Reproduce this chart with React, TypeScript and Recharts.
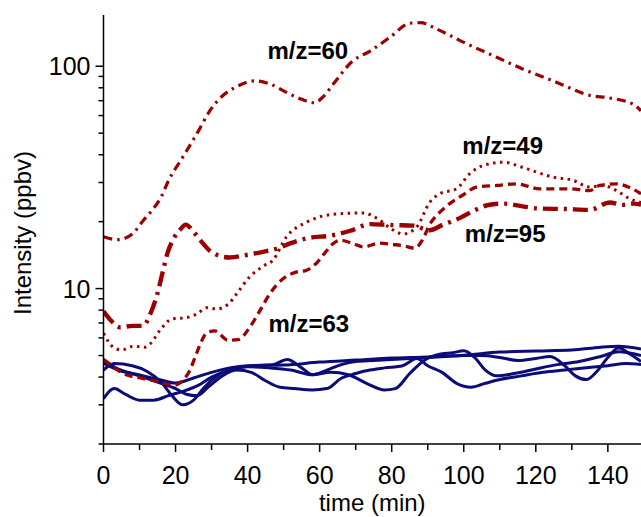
import { LineChart, Line, XAxis, YAxis, ReferenceDot, Label } from 'recharts'

const FONT = "'Liberation Sans', Arial, Helvetica, sans-serif"
const RED = '#9c0000'
const BLUE = '#0c0c78'

// axis ticks
const timeTicks = [0, 10, 20, 30, 40, 50, 60, 70, 80, 90, 100, 110, 120, 130, 140]
const timeLabels = [0, 20, 40, 60, 80, 100, 120, 140]
const intensityTicks = [2, 3, 4, 5, 6, 7, 8, 9, 10, 20, 30, 40, 50, 60, 70, 80, 90, 100]
const intensityLabels = [10, 100]

// [time (min), intensity (ppbv)]
const mz60 = [
  [0, 17.1], [4, 16.6], [8, 17.6], [11, 20.2], [13.5, 22.5], [16, 25.8], [18, 30.5], [22, 39],
  [26, 50], [29.5, 63], [33, 73.5], [37, 81], [42, 86], [46, 83.5], [51, 76], [55, 71],
  [58.5, 68.5], [61, 73], [64, 84], [69, 105], [74, 117], [79.5, 135], [85, 156], [88, 157],
  [92.5, 147], [100, 128], [109, 110], [116.5, 97], [125.5, 85], [135, 74], [140.5, 72],
  [147, 67.5], [149.2, 63],
]
const mz95 = [
  [0, 7.9], [2, 7.2], [4.6, 6.7], [8, 6.8], [11, 6.8], [13, 7.7], [15.2, 9.8], [16.5, 12],
  [17.8, 14.5], [19.5, 16.8], [21.5, 18.6], [22.8, 19.4], [25, 18], [27, 16.4], [30.5, 14.4],
  [35, 13.8], [40, 14.2], [44, 14.6], [48, 15.1], [52, 16], [57, 16.9], [63, 17.3],
  [68.5, 18.2], [74, 19.5], [80, 19.3], [86, 19.2], [90.5, 18.3], [94, 19.3], [99, 20.8],
  [103, 22.5], [106.5, 23.7], [111, 24.1], [116, 23.5], [121, 22.9], [128, 22.8], [135, 22.6],
  [140.5, 24.4], [144, 23.8], [147, 24.1], [149.2, 23.9],
]
const mz49 = [
  [0, 6.3], [2.7, 5.45], [5, 5.3], [8.3, 5.5], [11.5, 5.45], [13, 5.65], [15.7, 6.5], [19, 7.3],
  [23, 7.4], [26, 7.7], [28.6, 8.2], [31.4, 8.1], [34.6, 8.5], [37, 9.5], [40.6, 11.3],
  [44.3, 12.6], [47, 13.4], [50.8, 17.1], [56.4, 19.9], [62.8, 21.5], [68, 21.8], [72, 21.9],
  [76.7, 20.3], [80, 18.5], [83.2, 17.6], [86.9, 18.9], [90.6, 24.5], [93.3, 26.7], [98, 28.1],
  [101.6, 32.8], [105.4, 35.8], [110.9, 37], [117.4, 34.6], [124.8, 31.7], [130.3, 30.7],
  [135, 28.6], [138.6, 29.1], [142.4, 27.6], [146, 25.4], [149.2, 24.4],
]
const mz63 = [
  [0, 4.8], [2.7, 4.45], [5.5, 4.15], [11, 3.94], [15.7, 3.8], [19.4, 3.67], [22.1, 3.88],
  [24, 4.3], [25.6, 5], [27, 5.7], [28.6, 6.3], [30.9, 6.45], [34.6, 5.86], [37.4, 5.9],
  [40.6, 6.7], [43.5, 8], [46.2, 9.5], [49.9, 11.1], [53, 11.8], [56.4, 12.1], [59.1, 13],
  [61.5, 14.5], [63.7, 15.9], [65.6, 16.5], [69, 16], [72.1, 15.4], [76.7, 16], [80, 15.8],
  [83.2, 15.6], [86.4, 15.2], [88.5, 16.5], [90.6, 19.5], [93.3, 22], [96.1, 24.1], [100, 26.5],
  [103.5, 28.6], [109.1, 29.1], [114.6, 29.6], [121.1, 28.1], [129.4, 28.1], [135, 27.6],
  [137.7, 29.1], [142.4, 29.6], [146, 28.5], [149.2, 26.7],
]

// blue background traces
const blueA = [
  [0, 4.62], [4, 4.3], [10, 4.09], [16, 3.88], [20, 3.76], [25, 3.96], [30, 4.2], [35, 4.4],
  [40, 4.5], [50, 4.53], [60, 4.67], [70, 4.77], [80, 4.87], [90, 4.93], [100, 5.02],
  [110, 5.18], [120, 5.24], [130, 5.29], [138, 5.45], [143, 5.5], [149.2, 5.35],
]
const blueB = [
  [0, 4.3], [3, 4.6], [8, 4.5], [12, 4.25], [16, 3.8], [19, 3.3], [22, 3.0], [25, 3.15],
  [28, 3.6], [32, 4.1], [36, 4.35], [42, 4.5], [47, 4.55], [51, 4.8], [55, 4.4], [58, 4.1],
  [62, 4.3], [66, 4.55], [70, 4.7], [75, 4.75], [80, 4.8], [85, 4.85], [90, 4.9], [95, 4.95],
  [100, 5.0], [105, 5.0], [110, 4.9], [115, 4.75], [120, 4.85], [124, 4.95], [128, 4.5],
  [131, 4.05], [134, 3.9], [137, 4.25], [140, 4.9], [143, 5.4], [146, 5.1], [149.2, 4.7],
]
const blueC = [
  [0, 3.2], [3, 3.55], [6, 3.35], [10, 3.15], [14, 3.15], [18, 3.3], [22, 3.45], [26, 3.65],
  [30, 4.0], [35, 4.3], [40, 4.45], [46, 4.4], [52, 4.3], [58, 4.1], [63, 4.2], [68, 4.1],
  [73, 3.75], [78, 3.5], [81, 3.55], [85, 4.15], [89, 4.75], [93, 5.05], [97, 5.15], [100, 5.25],
  [103, 4.9], [106, 4.3], [109, 4.05], [114, 4.15], [120, 4.35], [126, 4.55], [132, 4.7],
  [138, 4.95], [143, 5.2], [149.2, 5.0],
]
const blueD = [
  [0, 4.8], [4, 4.35], [8, 4.15], [12, 3.95], [16, 3.75], [20, 3.55], [23, 3.35], [26, 3.3],
  [29, 3.6], [33, 4.05], [37, 4.3], [41, 4.2], [45, 3.85], [49, 3.6], [53, 3.55], [58, 3.5],
  [62, 3.55], [66, 3.95], [70, 4.15], [74, 4.3], [78, 4.4], [83, 4.5], [87, 4.85], [90, 4.5],
  [94, 4.2], [98, 3.75], [102, 3.6], [106, 3.75], [110, 3.9], [116, 4.05], [122, 4.2],
  [128, 4.3], [134, 4.4], [140, 4.5], [145, 4.6], [149.2, 4.55],
]

// label anchors: [time, intensity at baseline]
const annotations = [
  { text: 'm/z=60', t: 56.7, v: 108 },
  { text: 'm/z=49', t: 110.8, v: 40.5 },
  { text: 'm/z=95', t: 111.5, v: 16.2 },
  { text: 'm/z=63', t: 57, v: 6.37 },
]

const toRows = (pts: number[][]) => pts.map(([t, v]) => ({ t, v }))

const redSeries = [
  { name: 'mz60', pts: mz60, dash: '9 5 2.5 5', width: 3.2 },
  { name: 'mz95', pts: mz95, dash: '15 6 3 6', width: 4.4 },
  { name: 'mz49', pts: mz49, dash: '2.5 4.5', width: 3 },
  { name: 'mz63', pts: mz63, dash: '8 5', width: 3.3 },
]
const blueSeries = [
  { name: 'a', pts: blueA },
  { name: 'b', pts: blueB },
  { name: 'c', pts: blueC },
  { name: 'd', pts: blueD },
]

function TimeTick({ x, y, payload }: any) {
  const major = timeLabels.includes(payload.value)
  return (
    <g>
      <line x1={x} x2={x} y1={y} y2={y + (major ? 8 : 6)} stroke="#000" strokeWidth={1.5} />
      {major && (
        <text x={x} y={y + 40} textAnchor="middle" fontSize={25} fontFamily={FONT} fill="#000">
          {payload.value}
        </text>
      )}
    </g>
  )
}

function IntensityTick({ x, y, payload }: any) {
  const major = intensityLabels.includes(payload.value)
  return (
    <g>
      <line x1={x - (major ? 8 : 5)} x2={x} y1={y} y2={y} stroke="#000" strokeWidth={1.5} />
      {major && (
        <text x={x - 13} y={y} textAnchor="end" dominantBaseline="central" fontSize={25} fontFamily={FONT} fill="#000">
          {payload.value}
        </text>
      )}
    </g>
  )
}

export default function App() {
  return (
    <div style={{ position: 'absolute', left: 0, top: 0, background: '#fff' }}>
      <LineChart width={641} height={517} margin={{ top: 15, right: 0, bottom: 0, left: 0 }}>
        <XAxis
          type="number"
          dataKey="t"
          domain={[0, 149.2]}
          ticks={timeTicks}
          interval={0}
          allowDataOverflow
          height={73}
          tickSize={0}
          tickMargin={0}
          tickLine={false}
          axisLine={{ stroke: '#000', strokeWidth: 1.5 }}
          tick={<TimeTick />}
        >
          <Label
            content={({ viewBox }: any) => (
              <text
                x={viewBox.x + viewBox.width / 2}
                y={viewBox.y + 67}
                textAnchor="middle"
                fontSize={24}
                fontFamily={FONT}
                fill="#000"
              >
                time (min)
              </text>
            )}
          />
        </XAxis>
        <YAxis
          type="number"
          dataKey="v"
          scale="log"
          domain={[2, 170]}
          ticks={intensityTicks}
          interval={0}
          allowDataOverflow
          width={103.5}
          tickSize={0}
          tickMargin={0}
          tickLine={false}
          axisLine={{ stroke: '#000', strokeWidth: 1.5 }}
          tick={<IntensityTick />}
        >
          <Label
            content={() => (
              <text
                x={22}
                y={233}
                transform="rotate(-90 22 233)"
                textAnchor="middle"
                dominantBaseline="central"
                fontSize={24}
                fontFamily={FONT}
                fill="#000"
              >
                Intensity (ppbv)
              </text>
            )}
          />
        </YAxis>
        {blueSeries.map((s) => (
          <Line
            key={s.name}
            data={toRows(s.pts)}
            dataKey="v"
            type="monotone"
            stroke={BLUE}
            strokeWidth={3}
            dot={false}
            activeDot={false}
            isAnimationActive={false}
          />
        ))}
        {redSeries.map((s) => (
          <Line
            key={s.name}
            data={toRows(s.pts)}
            dataKey="v"
            type="monotone"
            stroke={RED}
            strokeWidth={s.width}
            strokeDasharray={s.dash}
            dot={false}
            activeDot={false}
            isAnimationActive={false}
          />
        ))}
        {annotations.map((a) => (
          <ReferenceDot
            key={a.text}
            x={a.t}
            y={a.v}
            r={1}
            fill="none"
            stroke="none"
            ifOverflow="visible"
            label={{
              content: ({ viewBox }: any) => (
                <text
                  x={viewBox.x + viewBox.width / 2}
                  y={viewBox.y + viewBox.height / 2}
                  textAnchor="middle"
                  fontSize={24}
                  fontWeight="bold"
                  fontFamily={FONT}
                  fill="#000"
                >
                  {a.text}
                </text>
              ),
            }}
          />
        ))}
      </LineChart>
    </div>
  )
}
